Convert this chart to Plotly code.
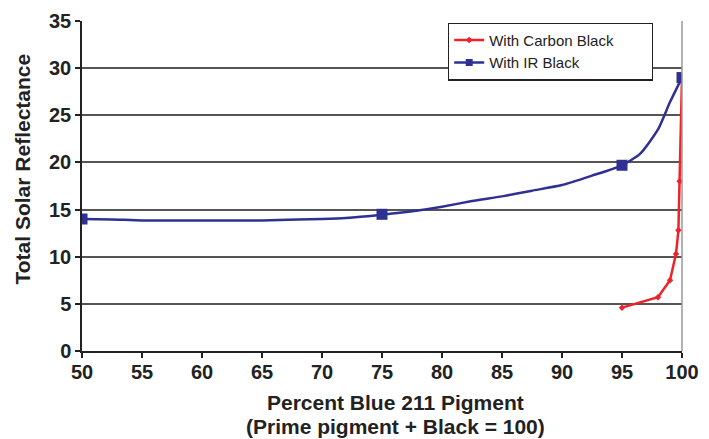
import plotly.graph_objects as go

# Carbon black series
carbon_x = [95, 98, 99, 99.5, 99.7, 99.8, 100]
carbon_y = [4.6, 5.7, 7.5, 10.3, 12.8, 18.0, 29.0]

# IR black series: measured points (markers)
ir_x = [50, 75, 95, 100]
ir_y = [14.0, 14.5, 19.7, 29.0]

# IR black curve as drawn
ir_curve_x = [50, 52.5, 55, 60, 65, 68, 70, 72, 75, 78, 80, 82.5, 85, 87.5, 90, 92.5, 95, 96.5, 98, 99, 100]
ir_curve_y = [14.0, 13.95, 13.85, 13.85, 13.85, 13.95, 14.0, 14.1, 14.45, 14.9, 15.3, 15.9, 16.4, 17.0, 17.6, 18.6, 19.7, 20.9, 23.5, 26.4, 29.0]

x_ticks = [50, 55, 60, 65, 70, 75, 80, 85, 90, 95, 100]
y_ticks = [0, 5, 10, 15, 20, 25, 30, 35]

x_title_lines = ["Percent Blue 211 Pigment", "(Prime pigment + Black = 100)"]
y_title = "Total Solar Reflectance"

RED = "#EE2229"
BLUE = "#2E3192"
FONT = "Liberation Sans, Arial, sans-serif"
NB = "\u00a0"
TITLE_FONT = dict(size=21, family=FONT, weight="bold", color="#222")

fig = go.Figure()

fig.add_trace(go.Scatter(
    x=carbon_x, y=carbon_y, mode="lines+markers", name="With Carbon Black" + NB * 8,
    line=dict(color=RED, width=2.5),
    marker=dict(symbol="diamond", size=5, color=RED),
))

fig.add_trace(go.Scatter(
    x=ir_curve_x, y=ir_curve_y, mode="lines", showlegend=False,
    line=dict(color=BLUE, width=2.5, shape="spline", smoothing=0.6),
    hoverinfo="skip",
))
fig.add_trace(go.Scatter(
    x=ir_x, y=ir_y, mode="markers", showlegend=False,
    marker=dict(symbol="square", size=11, color=BLUE),
))
# legend entry for IR black
fig.add_trace(go.Scatter(
    x=[None], y=[None], mode="lines+markers", name="With IR Black",
    line=dict(color=BLUE, width=2.5),
    marker=dict(symbol="square", size=7, color=BLUE),
))

# The page body has an 8px default margin, so the figure is sized to fit the window
fig.update_layout(
    width=701, height=431,
    margin=dict(l=74, r=27, t=13, b=88),
    paper_bgcolor="white", plot_bgcolor="white",
    font=dict(family=FONT, color="#222"),
    showlegend=True,
    legend=dict(
        x=0.61, y=0.995, xanchor="left", yanchor="top",
        bordercolor="#222", borderwidth=1.2, bgcolor="white",
        font=dict(size=15, family=FONT, color="#222"),
        tracegroupgap=0, itemwidth=30,
    ),
    shapes=[dict(type="line", xref="paper", yref="paper", x0=1, x1=1, y0=0, y1=1,
                 line=dict(color="#999", width=1.5))],
    annotations=[
        dict(text=x_title_lines[0], xref="paper", yref="paper", x=0.522, y=-0.155,
             xanchor="center", yanchor="middle", showarrow=False, font=TITLE_FONT),
        dict(text=x_title_lines[1], xref="paper", yref="paper", x=0.522, y=-0.228,
             xanchor="center", yanchor="middle", showarrow=False, font=TITLE_FONT),
        dict(text=y_title, xref="paper", yref="paper", x=-0.1, y=0.55, textangle=-90,
             xanchor="center", yanchor="middle", showarrow=False, font=TITLE_FONT),
    ],
)

fig.update_xaxes(
    range=[50, 100], tickvals=x_ticks, ticktext=[str(v) for v in x_ticks],
    showgrid=False, zeroline=False, automargin=False,
    showline=True, linecolor="#222", linewidth=1.5,
    ticks="outside", ticklen=5, tickcolor="#222", tickwidth=1.5,
    ticklabelstandoff=-3,
    tickfont=dict(size=20, family=FONT, weight="bold", color="#222"),
)
fig.update_yaxes(
    range=[0, 35], tickvals=y_ticks, ticktext=[str(v) for v in y_ticks],
    showgrid=True, gridcolor="#555", gridwidth=1.5, zeroline=False, automargin=False,
    showline=True, linecolor="#222", linewidth=1.5,
    ticks="outside", ticklen=5, tickcolor="#222", tickwidth=1.5,
    tickfont=dict(size=20, family=FONT, weight="bold", color="#222"),
)

fig.write_html("out.html")
